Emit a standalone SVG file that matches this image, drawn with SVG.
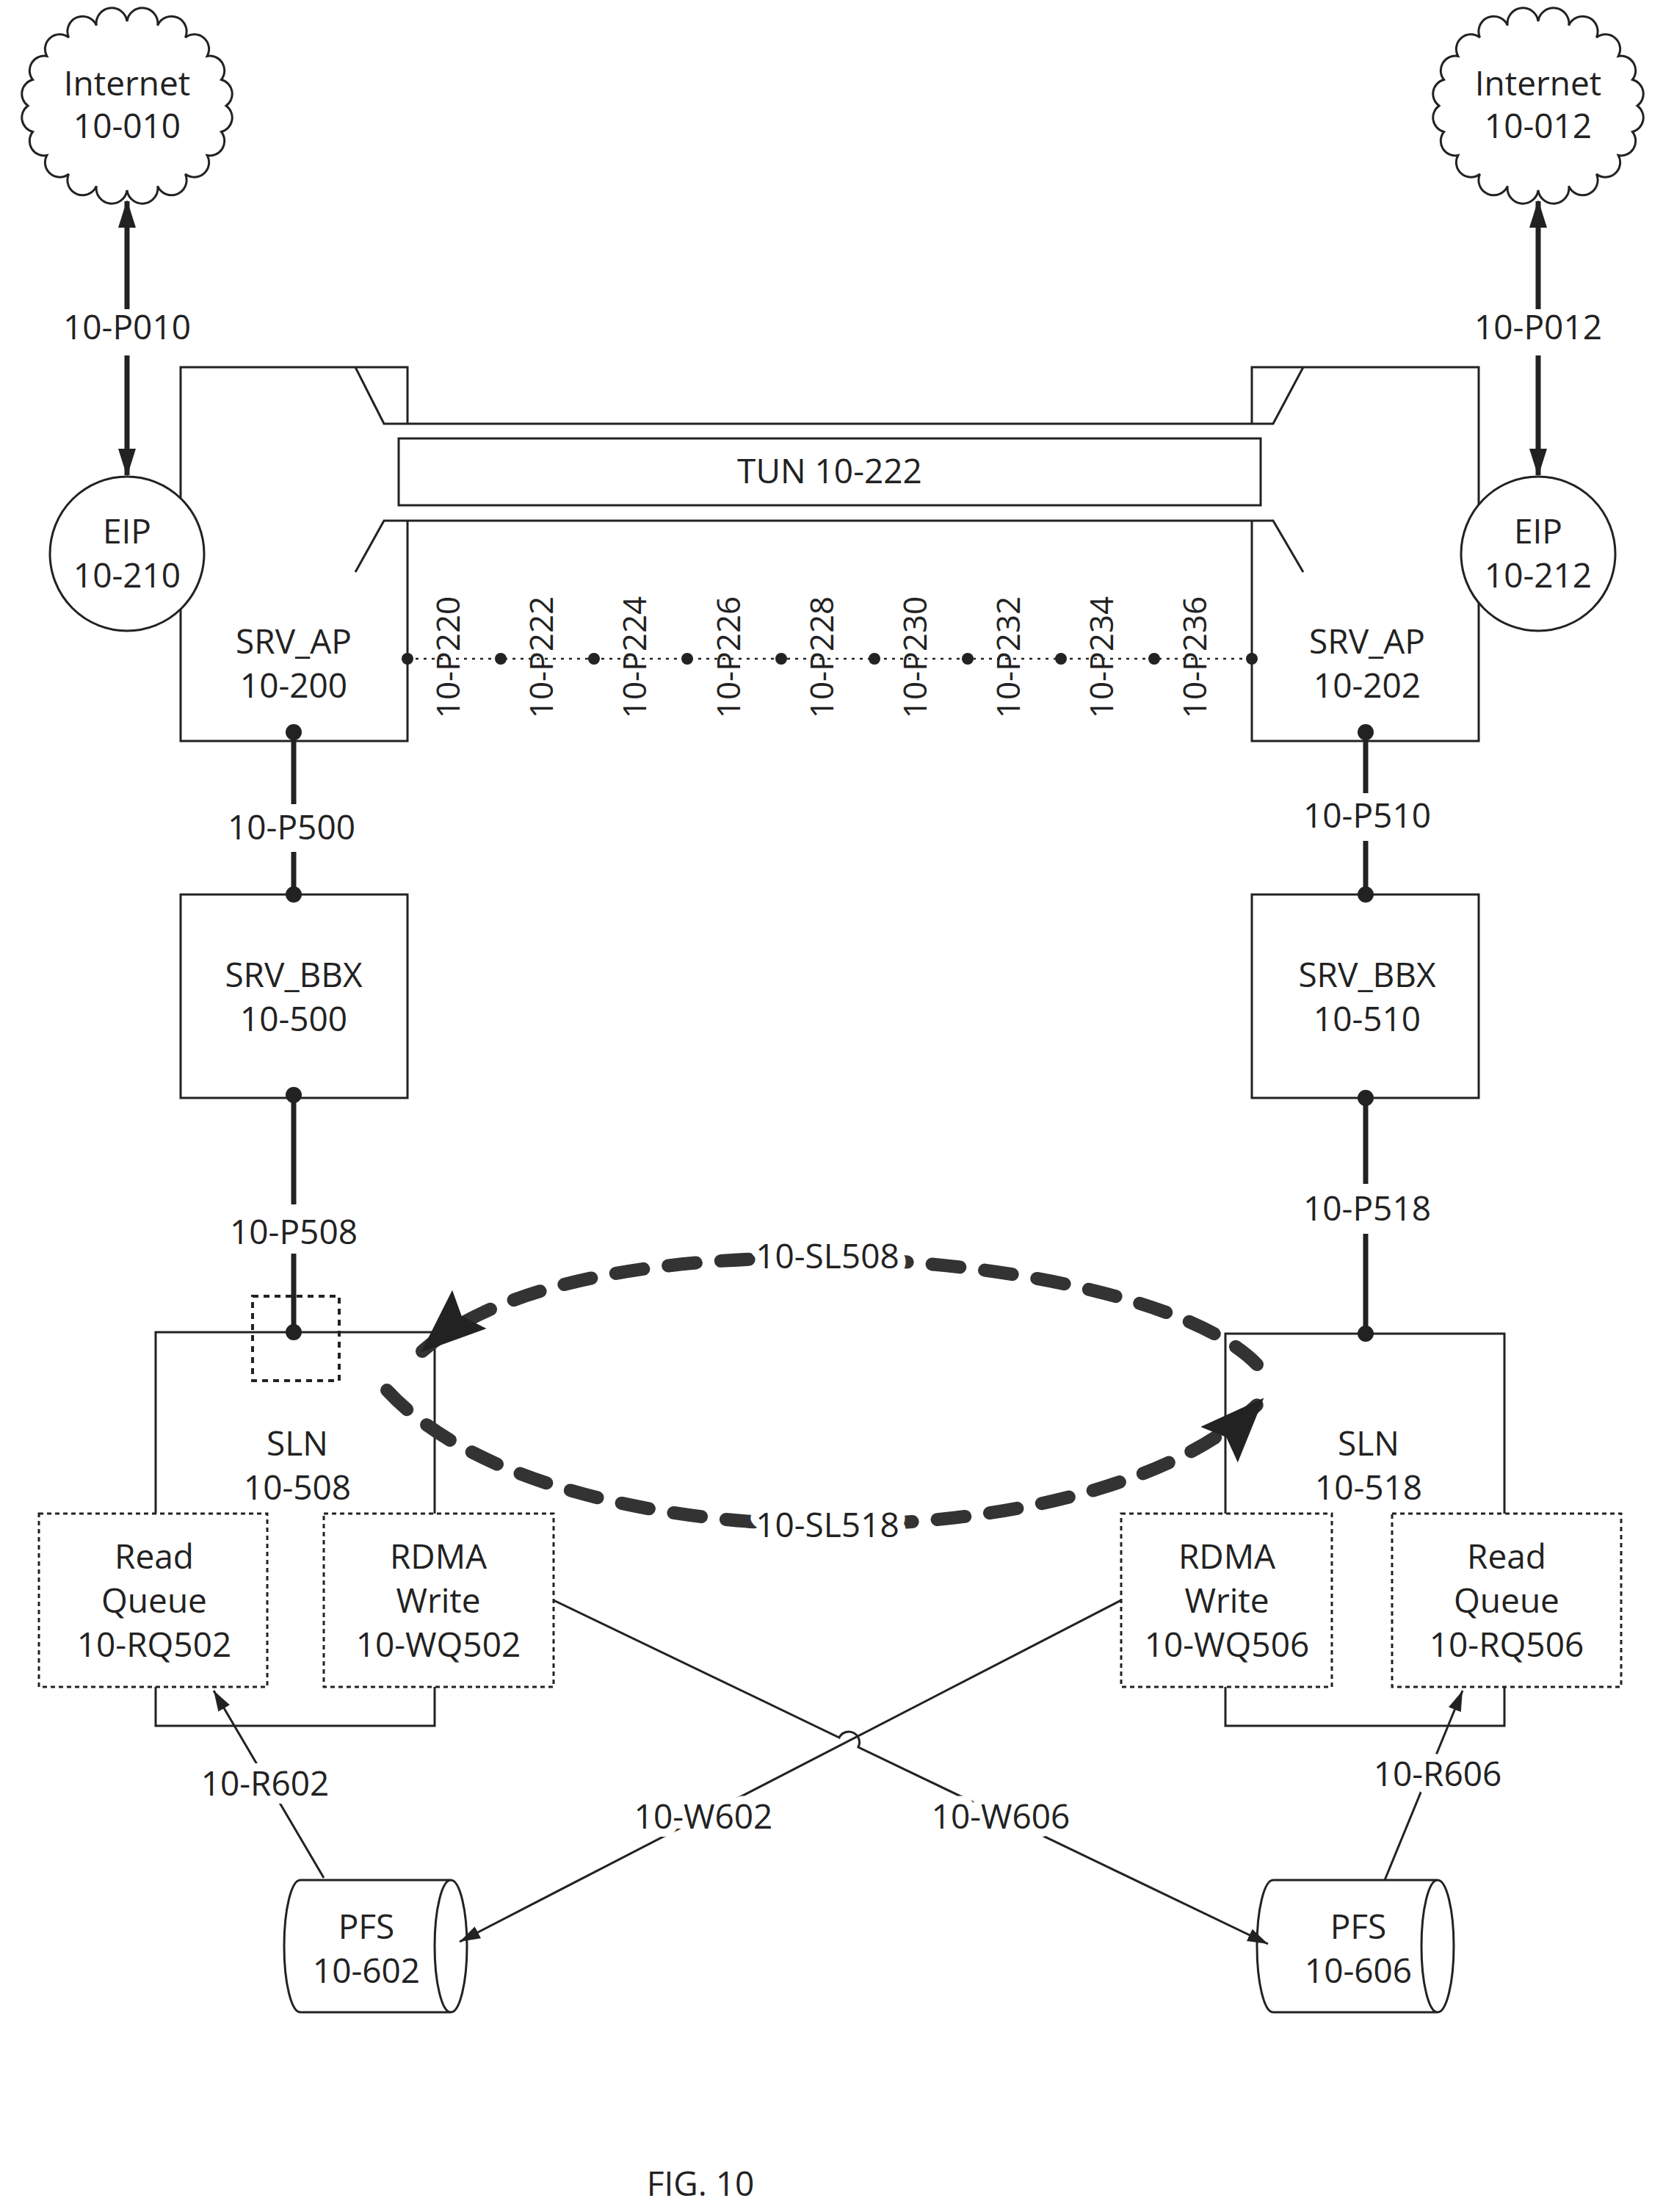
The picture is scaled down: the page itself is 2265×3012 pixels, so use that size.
<svg xmlns="http://www.w3.org/2000/svg" width="2265" height="3012" viewBox="0 0 2265 3012">
<style>
text{font-family:"Open Sans","Liberation Sans",sans-serif;font-size:46px;fill:#222;text-anchor:middle}
.lbl{paint-order:stroke;stroke:#fff;stroke-width:22px;stroke-linejoin:round}
.box{fill:#fff;stroke:#222;stroke-width:3}
.dbox{fill:#fff;stroke:#222;stroke-width:3;stroke-dasharray:6 5}
.thick{stroke:#222;stroke-width:7;fill:none}
.thin{stroke:#222;stroke-width:3;fill:none}
.dash{stroke:#333;stroke-width:18;fill:none;stroke-dasharray:38 34;stroke-linecap:round}
.dot{fill:#222}
.vt{font-size:44px}
</style>
<defs>
<marker id="ah" markerUnits="userSpaceOnUse" markerWidth="40" markerHeight="30" refX="36" refY="15" orient="auto-start-reverse"><path d="M0,3 L38,15 L0,27 Z" fill="#222"/></marker>
<marker id="as" markerUnits="userSpaceOnUse" markerWidth="30" markerHeight="22" refX="28" refY="11" orient="auto"><path d="M0,2 L28,11 L0,20 Z" fill="#222"/></marker>
<marker id="ab" markerUnits="userSpaceOnUse" markerWidth="90" markerHeight="70" refX="86" refY="35" orient="auto"><path d="M0,0 L88,35 L0,70 L14,35 Z" fill="#222"/></marker>
<path id="cloud" class="box" d="M308,144 A20 20 0 0 1 301.4,179.5 A20 20 0 0 1 282.2,211.6 A20 20 0 0 1 252.4,237 A20 20 0 0 1 214.7,253.4 A20 20 0 0 1 173,259 A20 20 0 0 1 131.3,253.4 A20 20 0 0 1 93.6,237 A20 20 0 0 1 63.8,211.6 A20 20 0 0 1 44.6,179.5 A20 20 0 0 1 38,144 A20 20 0 0 1 44.6,108.5 A20 20 0 0 1 63.8,76.4 A20 20 0 0 1 93.6,51 A20 20 0 0 1 131.3,34.6 A20 20 0 0 1 173,29 A20 20 0 0 1 214.7,34.6 A20 20 0 0 1 252.4,51 A20 20 0 0 1 282.2,76.4 A20 20 0 0 1 301.4,108.5 A20 20 0 0 1 308,144 Z"/>
</defs>

<g id="internet-10-010"><use href="#cloud"/><text x="173" y="130">Internet</text><text x="173" y="188">10-010</text></g>
<g id="internet-10-012"><use href="#cloud" transform="translate(1922,0)"/><text x="2095" y="130">Internet</text><text x="2095" y="188">10-012</text></g>

<g id="srv-ap-10-200"><rect class="box" x="246" y="500" width="309" height="509"/><text x="400" y="890">SRV_AP</text><text x="400" y="950">10-200</text></g>
<g id="srv-ap-10-202"><rect class="box" x="1705" y="500" width="309" height="509"/><text x="1862" y="890">SRV_AP</text><text x="1862" y="950">10-202</text></g>

<g id="tun-10-222">
<rect x="523" y="577" width="1211" height="132" fill="#fff"/>
<path class="thin" d="M484,500 L523,577 L1734,577 L1775,500 M484,779 L523,709 L1734,709 L1775,779" stroke-width="4"/>
<rect class="box" x="543" y="597" width="1174" height="91"/>
<text x="1130" y="658">TUN 10-222</text>
</g>

<g id="eip-10-210"><circle class="box" cx="173" cy="754" r="105"/><text x="173" y="740">EIP</text><text x="173" y="800">10-210</text></g>
<g id="eip-10-212"><circle class="box" cx="2095" cy="754" r="105"/><text x="2095" y="740">EIP</text><text x="2095" y="800">10-212</text></g>

<g id="srv-bbx-10-500"><rect class="box" x="246" y="1218" width="309" height="277"/><text x="400" y="1344">SRV_BBX</text><text x="400" y="1404">10-500</text></g>
<g id="srv-bbx-10-510"><rect class="box" x="1705" y="1218" width="309" height="277"/><text x="1862" y="1344">SRV_BBX</text><text x="1862" y="1404">10-510</text></g>

<g id="sln-10-508"><rect class="box" x="212" y="1814" width="380" height="536"/><text x="405" y="1982">SLN</text><text x="405" y="2042">10-508</text></g>
<g id="sln-10-518"><rect class="box" x="1669" y="1816" width="380" height="534"/><text x="1864" y="1982">SLN</text><text x="1864" y="2042">10-518</text></g>

<g id="read-queue-10-rq502"><rect class="dbox" x="53" y="2061" width="311" height="236"/><text x="210" y="2136">Read</text><text x="210" y="2196">Queue</text><text x="210" y="2256">10-RQ502</text></g>
<g id="rdma-write-10-wq502"><rect class="dbox" x="441" y="2061" width="313" height="236"/><text x="597" y="2136">RDMA</text><text x="597" y="2196">Write</text><text x="597" y="2256">10-WQ502</text></g>
<g id="rdma-write-10-wq506"><rect class="dbox" x="1527" y="2061" width="287" height="236"/><text x="1671" y="2136">RDMA</text><text x="1671" y="2196">Write</text><text x="1671" y="2256">10-WQ506</text></g>
<g id="read-queue-10-rq506"><rect class="dbox" x="1896" y="2061" width="312" height="236"/><text x="2052" y="2136">Read</text><text x="2052" y="2196">Queue</text><text x="2052" y="2256">10-RQ506</text></g>

<g id="pfs-10-602"><path class="box" d="M409,2560 L614,2560 A22 90 0 0 1 614,2740 L409,2740 A22 90 0 0 1 409,2560 Z M614,2560 A22 90 0 0 0 614,2740"/><text x="499" y="2640">PFS</text><text x="499" y="2700">10-602</text></g>
<g id="pfs-10-606"><path class="box" d="M1734,2560 L1958,2560 A22 90 0 0 1 1958,2740 L1734,2740 A22 90 0 0 1 1734,2560 Z M1958,2560 A22 90 0 0 0 1958,2740"/><text x="1850" y="2640">PFS</text><text x="1850" y="2700">10-606</text></g>

<rect id="port-marker-10-p508" x="344" y="1765" width="118" height="115" fill="none" stroke="#222" stroke-width="4" stroke-dasharray="8 7"/>

<g id="connectors">
<line class="thick" x1="173" y1="421" x2="173" y2="274" marker-end="url(#ah)"/>
<line class="thick" x1="173" y1="484" x2="173" y2="647" marker-end="url(#ah)"/>
<line class="thick" x1="2095" y1="421" x2="2095" y2="274" marker-end="url(#ah)"/>
<line class="thick" x1="2095" y1="484" x2="2095" y2="647" marker-end="url(#ah)"/>
<line class="thick" x1="400" y1="997" x2="400" y2="1095"/>
<line class="thick" x1="400" y1="1160" x2="400" y2="1218"/>
<line class="thick" x1="1860" y1="997" x2="1860" y2="1080"/>
<line class="thick" x1="1860" y1="1145" x2="1860" y2="1218"/>
<line class="thick" x1="400" y1="1491" x2="400" y2="1640"/>
<line class="thick" x1="400" y1="1707" x2="400" y2="1814"/>
<line class="thick" x1="1860" y1="1495" x2="1860" y2="1612"/>
<line class="thick" x1="1860" y1="1680" x2="1860" y2="1816"/>
<line stroke="#222" stroke-width="2.5" stroke-dasharray="4 7" x1="555" y1="897" x2="1705" y2="897"/>
<g class="dot">
<circle cx="400" cy="997" r="11"/><circle cx="400" cy="1218" r="11"/><circle cx="400" cy="1491" r="11"/><circle cx="400" cy="1814" r="11"/>
<circle cx="1860" cy="997" r="11"/><circle cx="1860" cy="1218" r="11"/><circle cx="1860" cy="1495" r="11"/><circle cx="1860" cy="1816" r="11"/>
<circle cx="555" cy="897" r="8"/><circle cx="682" cy="897" r="8"/><circle cx="809" cy="897" r="8"/><circle cx="936" cy="897" r="8"/><circle cx="1064" cy="897" r="8"/><circle cx="1191" cy="897" r="8"/><circle cx="1318" cy="897" r="8"/><circle cx="1445" cy="897" r="8"/><circle cx="1572" cy="897" r="8"/><circle cx="1705" cy="897" r="8"/>
</g>
<path class="dash" d="M1712,1858 C1560,1700 800,1640 575,1840" marker-end="url(#ab)"/>
<path class="dash" d="M527,1893 C750,2135 1500,2135 1720,1905" marker-end="url(#ab)"/>
<line class="thin" x1="441" y1="2557" x2="291" y2="2302" marker-end="url(#as)"/>
<line class="thin" x1="1886" y1="2560" x2="1992" y2="2302" marker-end="url(#as)"/>
<line class="thin" x1="1527" y1="2179" x2="626" y2="2644" marker-end="url(#as)"/>
<path class="thin" d="M754,2179 L1143,2366 A14 14 0 0 1 1169,2379 L1727,2647" marker-end="url(#as)"/>
</g>

<g id="labels">
<text x="173" y="462">10-P010</text>
<text x="2095" y="462">10-P012</text>
<text x="397" y="1143">10-P500</text>
<text x="1862" y="1127">10-P510</text>
<text x="400" y="1694">10-P508</text>
<text x="1862" y="1662">10-P518</text>
<text class="lbl" x="1127" y="1727">10-SL508</text>
<text class="lbl" x="1127" y="2093">10-SL518</text>
<text class="lbl" x="361" y="2445">10-R602</text>
<text class="lbl" x="1958" y="2432">10-R606</text>
<text class="lbl" x="958" y="2490">10-W602</text>
<text class="lbl" x="1363" y="2490">10-W606</text>
<g class="vt">
<text class="vt" transform="translate(626,895) rotate(-90)">10-P220</text>
<text class="vt" transform="translate(753,895) rotate(-90)">10-P222</text>
<text class="vt" transform="translate(880,895) rotate(-90)">10-P224</text>
<text class="vt" transform="translate(1008,895) rotate(-90)">10-P226</text>
<text class="vt" transform="translate(1135,895) rotate(-90)">10-P228</text>
<text class="vt" transform="translate(1262,895) rotate(-90)">10-P230</text>
<text class="vt" transform="translate(1389,895) rotate(-90)">10-P232</text>
<text class="vt" transform="translate(1516,895) rotate(-90)">10-P234</text>
<text class="vt" transform="translate(1643,895) rotate(-90)">10-P236</text>
</g>
<text x="954" y="2990">FIG. 10</text>
</g>
</svg>
